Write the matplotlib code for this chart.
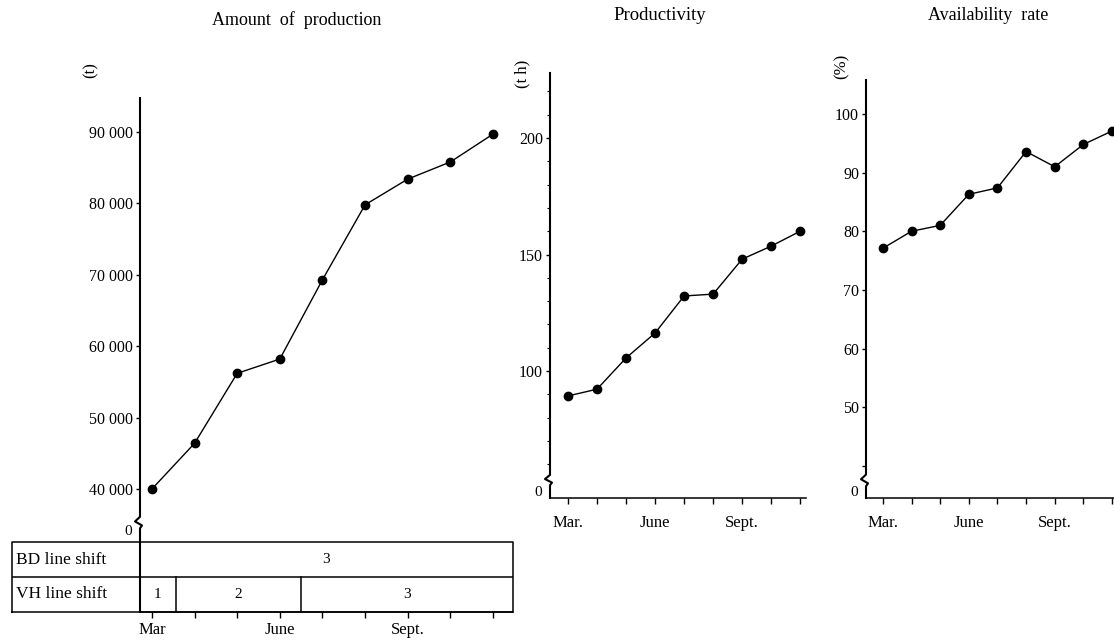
import matplotlib
matplotlib.use('Agg')
import matplotlib.pyplot as plt
from matplotlib.transforms import blended_transform_factory

plt.rcParams['font.family'] = ['Liberation Serif', 'DejaVu Serif']

# data
months = ['Mar', 'Apr', 'May', 'June', 'July', 'Aug', 'Sept', 'Oct', 'Nov']
production = [40000, 46400, 56200, 58200, 69300, 79800, 83400, 85800, 89700]
productivity = [89.3, 92.2, 105.6, 116.3, 132.2, 133.0, 148.0, 153.6, 160.0]
availability = [77.1, 80.0, 81.0, 86.3, 87.4, 93.6, 91.0, 94.8, 97.1]

prod_ticks = [40000, 50000, 60000, 70000, 80000, 90000]
prod_labels = ['40 000', '50 000', '60 000', '70 000', '80 000', '90 000']
rate_ticks = [40, 50, 60, 70, 80, 90, 100]
rate_labels = ['', '50', '60', '70', '80', '90', '100']
pty_ticks = [100, 150, 200]

# shift table
bd_shift = ['3']
bd_bounds = []
vh_shift = ['1', '2', '3']
vh_bounds = [0.56, 3.5]

W, H = 1114, 642
fig = plt.figure(figsize=(W / 100, H / 100), dpi=100)


def box(l, r, t, b):
    return [l / W, 1 - b / H, (r - l) / W, (b - t) / H]


def setup(ax, xlim, ylim, label_months, xpad):
    ax.set_facecolor('none')
    ax.set_xlim(*xlim)
    ax.set_ylim(*ylim)
    for s in ['top', 'right', 'left']:
        ax.spines[s].set_visible(False)
    ax.spines['bottom'].set_linewidth(1.1)
    x = list(range(len(months)))
    ax.set_xticks(x)
    ax.set_xticklabels([label_months.get(m, '') for m in months], fontsize=12)
    ax.tick_params(axis='x', direction='out', length=4, width=1, pad=xpad)
    ax.tick_params(axis='y', direction='out', length=3, width=1, pad=2, labelsize=11.5)
    ax.tick_params(axis='y', which='minor', length=2, width=0.8)


def broken_axis(ax, yb, h, zero_y):
    tr = blended_transform_factory(ax.transAxes, ax.transData)
    wpx = ax.get_position().width * W
    k = 1 / wpx
    y0, y1 = ax.get_ylim()
    xs = [0, 0, -5 * k, 2 * k, 0, 0]
    ys = [y1, yb + h, yb + 0.2 * h, yb - 0.5 * h, yb - h, y0]
    ax.plot(xs, ys, color='black', lw=1.5, transform=tr, clip_on=False)
    ax.text(-8 * k, zero_y, '0', transform=tr, ha='right', va='center', fontsize=11)


def series(ax, y):
    ax.plot(range(len(months)), y, color='black', lw=1, marker='o', ms=6,
            clip_on=False, zorder=3)


# ---- Amount of production
ax1 = fig.add_axes(box(140, 513, 98, 612))
setup(ax1, (-0.28, 8.47), (22774, 94760), {'Mar': 'Mar', 'June': 'June', 'Sept': 'Sept.'}, 3.5)
ax1.set_yticks(prod_ticks)
ax1.set_yticklabels(prod_labels)
broken_axis(ax1, 35300, 800, 34000)
series(ax1, production)

tab = fig.add_axes(box(12, 513, 542, 612))
tab.set_xlim(-3.28, 8.47)
tab.set_ylim(0, 2)
tab.axis('off')
tab.set_facecolor('none')
lk = dict(color='black', lw=1.1)
tab.plot([-3.28, 8.47, 8.47, -3.28, -3.28], [0, 0, 2, 2, 0], clip_on=False, **lk)
tab.plot([-3.28, 8.47], [1, 1], **lk)
tab.plot([-0.28, -0.28], [0, 2], **lk)
for b in vh_bounds:
    tab.plot([b, b], [0, 1], **lk)
tab.text(-3.18, 1.5, 'BD line shift', ha='left', va='center', fontsize=12.5)
tab.text(-3.18, 0.5, 'VH line shift', ha='left', va='center', fontsize=12.5)
edges = [-0.28] + bd_bounds + [8.47]
for i, lab in enumerate(bd_shift):
    tab.text((edges[i] + edges[i + 1]) / 2, 1.5, lab, ha='center', va='center', fontsize=11)
edges = [-0.28] + vh_bounds + [8.47]
for i, lab in enumerate(vh_shift):
    tab.text((edges[i] + edges[i + 1]) / 2, 0.5, lab, ha='center', va='center', fontsize=11)

# ---- Productivity
ax2 = fig.add_axes(box(550, 806, 73, 498))
setup(ax2, (-0.62, 8.2), (45.5, 227.9), {'Mar': 'Mar.', 'June': 'June', 'Sept': 'Sept.'}, 8)
ax2.set_yticks(pty_ticks)
ax2.set_yticks(range(60, 230, 10), minor=True)
broken_axis(ax2, 53.2, 2.2, 48.0)
series(ax2, productivity)

# ---- Availability rate
ax3 = fig.add_axes(box(866, 1114, 80, 498))
setup(ax3, (-0.59, 8.07), (34.5, 105.8), {'Mar': 'Mar.', 'June': 'June', 'Sept': 'Sept.'}, 8)
ax3.set_yticks(rate_ticks)
ax3.set_yticklabels(rate_labels)
broken_axis(ax3, 37.5, 1.0, 35.5)
series(ax3, availability)

# titles and units
fig.text(297 / W, 1 - 20 / H, 'Amount  of  production', ha='center', va='center', fontsize=13)
fig.text(660 / W, 1 - 16 / H, 'Productivity', ha='center', va='center', fontsize=13.5)
fig.text(988 / W, 1 - 16 / H, 'Availability  rate', ha='center', va='center', fontsize=13)
fig.text(91 / W, 1 - 70 / H, '(t)', rotation=90, ha='center', va='center', fontsize=12)
fig.text(522 / W, 1 - 74 / H, '(t h)', rotation=90, ha='center', va='center', fontsize=12)
fig.text(842 / W, 1 - 66 / H, '(%)', rotation=90, ha='center', va='center', fontsize=12)

fig.savefig('out.png', dpi=100, facecolor='white')
